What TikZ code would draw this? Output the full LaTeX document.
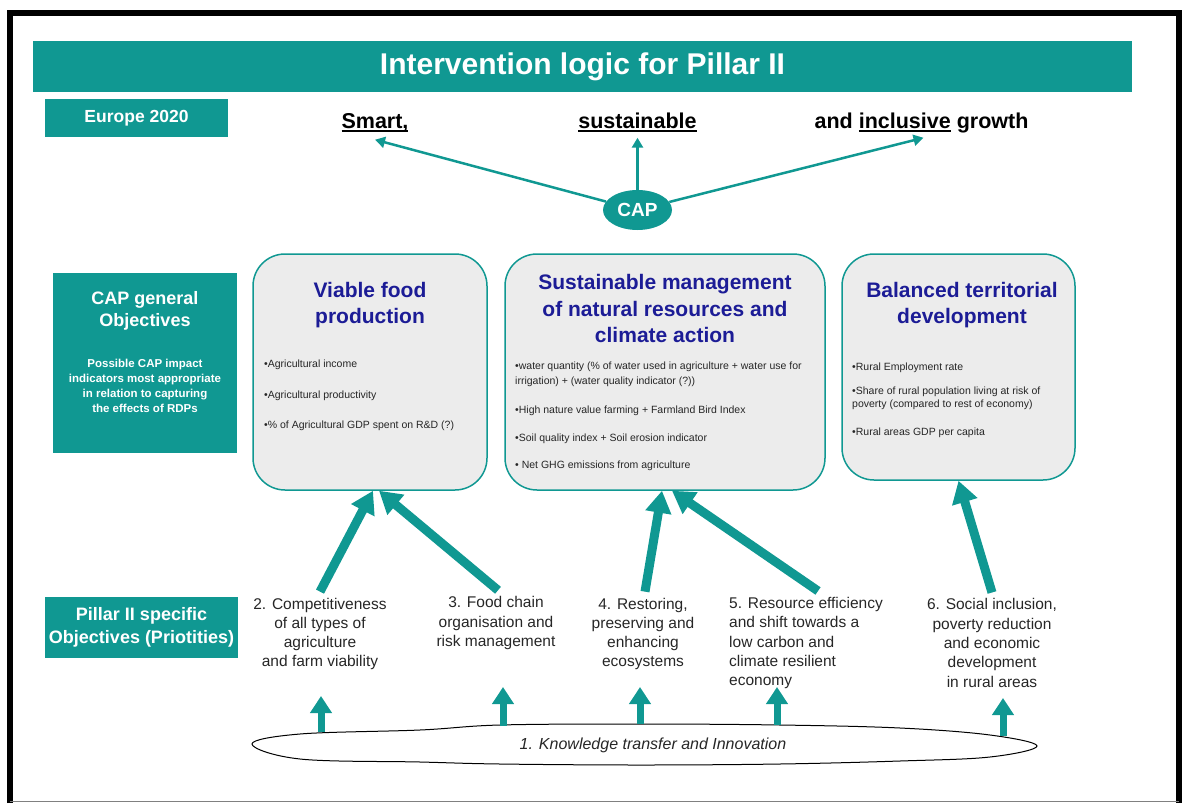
\documentclass[tikz,border=0pt]{standalone}
\usepackage{fontspec}
\setmainfont{Liberation Sans}
\usetikzlibrary{arrows.meta,shapes.geometric}
\definecolor{teal1}{RGB}{16,152,146}
\definecolor{navy1}{RGB}{28,28,150}
\definecolor{boxgray}{RGB}{236,236,236}
\definecolor{txt}{RGB}{38,38,38}
\newsavebox\ulbox
\newcommand{\myul}[1]{\sbox\ulbox{#1}\rlap{\rule[-3.5pt]{\wd\ulbox}{1.5pt}}\usebox\ulbox}
\begin{document}
\begin{tikzpicture}[x=1pt,y=-1pt,
 tealbox/.style={fill=teal1, text=white, font=\bfseries, inner sep=0, align=center},
 objbox/.style={draw=teal1, line width=1.5pt, fill=boxgray, rounded corners=32pt, inner sep=0},
 objtitle/.style={text=navy1, font=\fontsize{21}{26.5}\selectfont\bfseries, align=center, inner sep=0},
 bullet/.style={anchor=west, inner sep=0, text=txt, font=\fontsize{10.5}{15}\selectfont},
 prio/.style={text=txt, font=\fontsize{15.5}{19.3}\selectfont, inner sep=0},
 bigarr/.style={draw=teal1, line width=9pt, -{Triangle[width=25pt,length=22pt]}},
 smallarr/.style={draw=teal1, line width=7pt, -{Triangle[width=21pt,length=17pt]}},
 thinarr/.style={draw=teal1, line width=2.5pt, -{Triangle[width=11pt,length=10pt]}},
 goal/.style={font=\fontsize{21.5}{25}\selectfont\bfseries, text=black, inner sep=0, anchor=base}
]
\useasboundingbox (0,0) rectangle (1188,803);
% frame
\draw[line width=6pt] (10,803) -- (10,13) -- (1179,13) -- (1179,803);
\draw[gray, line width=1.5pt] (10,801.5) -- (1179,801.5);

% title bar
\node[tealbox, minimum width=1099, minimum height=51, font=\fontsize{30}{34}\selectfont\bfseries] (title) at (582.5,66.5) {Intervention logic for Pillar II};

% left labels
\node[tealbox, minimum width=183, minimum height=38, font=\fontsize{17.5}{20}\selectfont\bfseries] (eu) at (136.5,118) {Europe 2020};
\node[tealbox, minimum width=184, minimum height=180] (capgen) at (145,363) {};
\node[text=white, font=\fontsize{18}{22}\selectfont\bfseries, align=center, inner sep=0] (capgent) at (145,311) {CAP general\\Objectives};
\node[text=white, font=\fontsize{11.5}{15}\selectfont\bfseries, align=center, inner sep=0] (capgens) at (145,385.5) {Possible CAP impact\\indicators most appropriate\\in relation to capturing\\the effects of RDPs};
\node[tealbox, minimum width=193, minimum height=61, font=\fontsize{18}{23}\selectfont\bfseries] (p2) at (141.5,627.5) {Pillar II specific\\Objectives (Priotities)};

% Europe 2020 goals
\node[goal] (smart) at (375,128) {\myul{Smart,}};
\node[goal] (sust) at (637.5,128) {\myul{sustainable}};
\node[goal] (grow) at (921.5,128) {and \myul{inclusive} growth};
\node[ellipse, fill=teal1, text=white, font=\fontsize{19}{22}\selectfont\bfseries, minimum width=69, minimum height=40, inner sep=0] (cap) at (637.5,210) {CAP};
\draw[thinarr] (cap) -- ([yshift=-8pt]smart.south);
\draw[thinarr] (cap) -- ([yshift=-6pt]sust.south);
\draw[thinarr] (cap) -- ([xshift=2pt,yshift=-5pt]grow.south);

% objective boxes
\node[objbox, minimum width=234, minimum height=236] (b1) at (370,372) {};
\node[objbox, minimum width=320, minimum height=236] (b2) at (665,372) {};
\node[objbox, minimum width=233, minimum height=226] (b3) at (958.5,367) {};
\node[objtitle] (b1t) at (370,305) {Viable food\\production};
\node[objtitle] (b2t) at (665,308.5) {Sustainable management\\of natural resources and\\climate action};
\node[objtitle] (b3t) at (962,305) {Balanced territorial\\development};

\node[bullet] (b1a) at (264,365) {•Agricultural income};
\node[bullet] (b1b) at (264,396) {•Agricultural productivity};
\node[bullet] (b1c) at (264,426) {•\% of Agricultural GDP spent on R\&D (?)};

\node[bullet] (b2a) at (515,367) {•water quantity (\% of water used in agriculture + water use for};
\node[bullet] (b2b) at (515,382) {irrigation) + (water quality indicator (?))};
\node[bullet] (b2c) at (515,411) {•High nature value farming + Farmland Bird Index};
\node[bullet] (b2d) at (515,439) {•Soil quality index + Soil erosion indicator};
\node[bullet] (b2e) at (515,466) {• Net GHG emissions from agriculture};

\node[bullet] (b3a) at (852,368) {•Rural Employment rate};
\node[bullet] (b3b) at (852,392) {•Share of rural population living at risk of};
\node[bullet] (b3c) at (852,405) {poverty (compared to rest of economy)};
\node[bullet] (b3d) at (852,433) {•Rural areas GDP per capita};

% priorities
\node[prio, align=center] (l2) at (320,634) {2. Competitiveness\\of all types of\\agriculture\\and farm viability};
\node[prio, align=center] (l3) at (496,623) {3. Food chain\\organisation and\\risk management};
\node[prio, align=center] (l4) at (643,634) {4. Restoring,\\preserving and\\enhancing\\ecosystems};
\node[prio, align=left, anchor=west] (l5) at (729,643) {5. Resource efficiency\\and shift towards a\\low carbon and\\climate resilient\\economy};
\node[prio, align=center] (l6) at (992,643) {6. Social inclusion,\\poverty reduction\\and economic\\development\\in rural areas};

\draw[bigarr] ([yshift=6pt]l2.north) -- ([xshift=3pt]b1.south);
\draw[bigarr] ([xshift=2pt,yshift=6pt]l3.north) -- ([xshift=9pt]b1.south);
\draw[bigarr] ([xshift=2pt,yshift=6pt]l4.north) -- ([xshift=-3pt]b2.south);
\draw[bigarr] ([xshift=12pt,yshift=6pt]l5.north) -- ([xshift=7pt]b2.south);
\draw[bigarr] ([yshift=6pt]l6.north) -- (b3.south);

% knowledge transfer
\draw[line width=1pt] plot[smooth cycle, tension=0.6] coordinates {(252,744) (300,734) (420,730) (500,725) (640,724) (780,725) (900,728) (990,735) (1037,746) (990,757) (900,761) (780,764) (640,765) (500,764) (420,762) (300,759)};
\node[font=\fontsize{16}{19}\selectfont\itshape, text=txt, inner sep=0] (kt) at (653,745) {1. Knowledge transfer and Innovation};
\coordinate (k2) at (321,732);
\coordinate (k3) at (503,726);
\coordinate (k4) at (640,724);
\coordinate (k5) at (777,725);
\coordinate (k6) at (1003,736);
\coordinate (t2) at (321,696);
\coordinate (t3) at (503,687);
\coordinate (t4) at (640,687);
\coordinate (t5) at (777,687);
\coordinate (t6) at (1003,698);
\draw[smallarr] (k2) -- (t2);
\draw[smallarr] (k3) -- (t3);
\draw[smallarr] (k4) -- (t4);
\draw[smallarr] (k5) -- (t5);
\draw[smallarr] (k6) -- (t6);
\end{tikzpicture}
\end{document}
